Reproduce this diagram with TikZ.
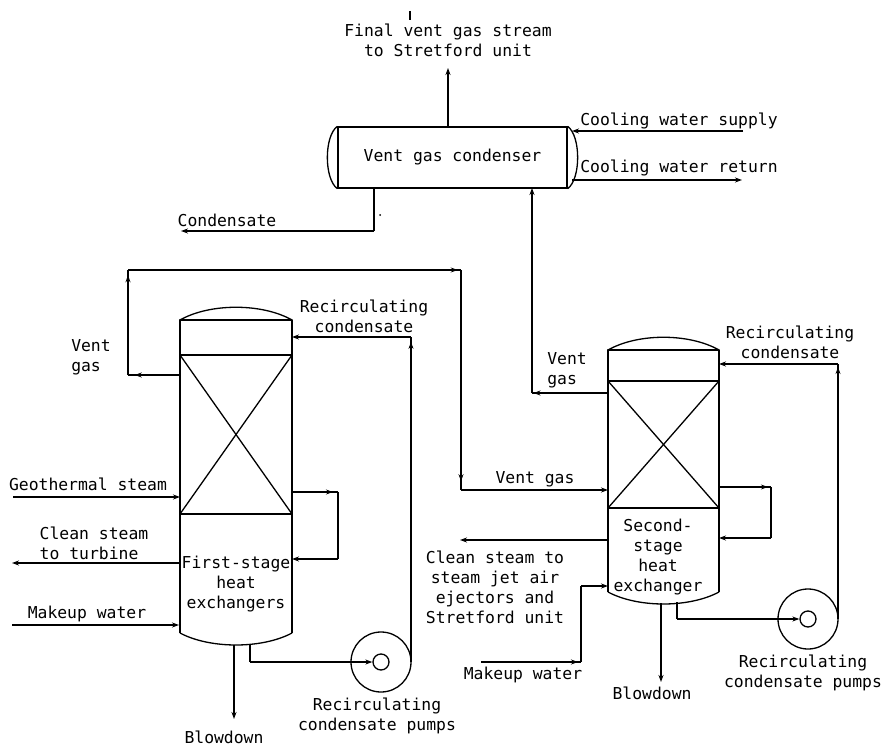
\documentclass[tikz,border=0pt]{standalone}
\usepackage{fontspec}
\setmainfont{DejaVu Sans Mono}
\usetikzlibrary{arrows.meta,decorations.markings}
\tikzset{
  pipe/.style={line width=1.3pt, line join=round},
  into/.style={pipe, -{Stealth[length=7pt,width=5pt]}},
  flow/.style={pipe, postaction={decorate}, decoration={markings,
    mark=at position #1 with {\arrow{Stealth[length=7pt,width=5pt]}}}},
  lbl/.style={font=\fontsize{16.4}{20}\selectfont, align=center, inner sep=0pt},
  lblL/.style={lbl, align=left},
}
\begin{document}
\begin{tikzpicture}[x=1pt, y=-1pt]
\useasboundingbox (0,0) rectangle (883,749);
% Vent gas condenser
\node[draw, line width=1.3pt, minimum width=229pt, minimum height=61pt, inner sep=0pt,
  font=\fontsize{16.4}{20}\selectfont] (condenser) at (452.5,157.5) {Vent gas condenser};
\draw[pipe] (condenser.north west) .. controls (324,136) and (324,179) .. (condenser.south west);
\draw[pipe] (condenser.north east) .. controls (581,136) and (581,179) .. (condenser.south east);
% Vessels: name/left/right/top/band/divider/bottom
\foreach \name/\lx/\rx/\ty/\by/\dy/\ey in {first/180/292/320/355/514/633, second/608/719/350/381/508/592}{
  \draw[pipe] (\lx,\ey) -- (\lx,\ty) -- (\rx,\ty) -- (\rx,\ey);
  \draw[pipe] (\lx,\ty) .. controls (\lx+30,\ty-17) and (\rx-30,\ty-17) .. (\rx,\ty);
  \draw[pipe] (\lx,\ey) .. controls (\lx+30,\ey+16) and (\rx-30,\ey+16) .. (\rx,\ey);
  \draw[pipe] (\lx,\by) -- (\rx,\by);
  \draw[pipe] (\lx,\dy) -- (\rx,\dy);
  \draw[pipe] (\lx,\by) -- (\rx,\dy);
  \draw[pipe] (\rx,\by) -- (\lx,\dy);
}
% Pumps
\node[draw, circle, line width=1.3pt, minimum size=60pt, inner sep=0pt] (pumpA) at (381,662) {};
\node[draw, circle, line width=1.3pt, minimum size=16pt, inner sep=0pt] (eyeA) at (381,662) {};
\node[draw, circle, line width=1.3pt, minimum size=60pt, inner sep=0pt] (pumpB) at (808,619) {};
\node[draw, circle, line width=1.3pt, minimum size=16pt, inner sep=0pt] (eyeB) at (808,619) {};
% Stream end points
\coordinate (stackT) at (448,127);
\coordinate (stackH) at (448,68);
\coordinate (tickT) at (410,11);
\coordinate (tickB) at (410,20);
\coordinate (cwsS) at (743,131);
\coordinate (cwsE) at (572,131);
\coordinate (cwrS) at (572,180);
\coordinate (cwrE) at (742,180);
\coordinate (condS) at (374,188);
\coordinate (condC) at (374,231);
\coordinate (condE) at (181,231);
\coordinate (ventAS) at (180,375);
\coordinate (ventAC) at (128,375);
\coordinate (ventAT) at (128,270);
\coordinate (ventAR) at (461,270);
\coordinate (ventAD) at (461,490);
\coordinate (ventAE) at (608,490);
\coordinate (ventBS) at (608,393);
\coordinate (ventBC) at (532,393);
\coordinate (ventBE) at (532,188);
\coordinate (geoS) at (13,497);
\coordinate (geoE) at (180,497);
\coordinate (cleanAS) at (180,563);
\coordinate (cleanAE) at (12,563);
\coordinate (makeAS) at (12,625);
\coordinate (makeAE) at (179,625);
\coordinate (blowAS) at (234,645);
\coordinate (blowAE) at (234,719);
\coordinate (loopAS) at (292,492);
\coordinate (loopAC) at (338,492);
\coordinate (loopAD) at (338,559);
\coordinate (loopAE) at (292,559);
\coordinate (sucAS) at (250,644);
\coordinate (sucAC) at (250,662);
\coordinate (recAS) at (411,662);
\coordinate (recAC) at (411,337);
\coordinate (recAE) at (292,337);
\coordinate (cleanBS) at (608,540);
\coordinate (cleanBE) at (460,540);
\coordinate (makeBS) at (481,662);
\coordinate (makeBC) at (581,662);
\coordinate (makeBD) at (581,586);
\coordinate (makeBE) at (608,586);
\coordinate (blowBS) at (661,603);
\coordinate (blowBE) at (661,682);
\coordinate (loopBS) at (719,487);
\coordinate (loopBC) at (771,487);
\coordinate (loopBD) at (771,538);
\coordinate (loopBE) at (719,538);
\coordinate (sucBS) at (677,602);
\coordinate (sucBC) at (677,619);
\coordinate (recBS) at (838,619);
\coordinate (recBC) at (838,364);
\coordinate (recBE) at (719,364);
% Condenser streams
\draw[into] (stackT) -- (stackH);
\draw[pipe] (tickT) -- (tickB);
\draw[into] (cwsS) -- (cwsE);
\draw[into] (cwrS) -- (cwrE);
\draw[pipe] (condS) -- (condC);
\draw[into] (condC) -- (condE);
\fill (380,215) circle (1pt);
% Vent gas from first stage to second stage
\draw[flow=0.87] (ventAS) -- (ventAC);
\draw[flow=0.95] (ventAC) -- (ventAT);
\draw[flow=0.99] (ventAT) -- (ventAR);
\draw[flow=0.96] (ventAR) -- (ventAD);
\draw[into] (ventAD) -- (ventAE);
\draw[flow=0.98] (ventBS) -- (ventBC);
\draw[into] (ventBC) -- (ventBE);
% First stage streams
\draw[into] (geoS) -- (geoE);
\draw[into] (cleanAS) -- (cleanAE);
\draw[into] (makeAS) -- (makeAE);
\draw[into] (blowAS) -- (blowAE);
\draw[flow=0.89] (loopAS) -- (loopAC);
\draw[pipe] (loopAC) -- (loopAD);
\draw[into] (loopAD) -- (loopAE);
\draw[pipe] (sucAS) -- (sucAC);
\draw[into] (sucAC) -- (eyeA.west);
\draw[flow=0.985] (recAS) -- (recAC);
\draw[into] (recAC) -- (recAE);
% Second stage streams
\draw[into] (cleanBS) -- (cleanBE);
\draw[flow=0.97] (makeBS) -- (makeBC);
\draw[pipe] (makeBC) -- (makeBD);
\draw[into] (makeBD) -- (makeBE);
\draw[into] (blowBS) -- (blowBE);
\draw[flow=0.94] (loopBS) -- (loopBC);
\draw[pipe] (loopBC) -- (loopBD);
\draw[into] (loopBD) -- (loopBE);
\draw[pipe] (sucBS) -- (sucBC);
\draw[into] (sucBC) -- (eyeB.west);
\draw[flow=0.988] (recBS) -- (recBC);
\draw[into] (recBC) -- (recBE);
% Labels
\node[lbl] (finalLbl) at (448,40) {Final vent gas stream\\to Stretford unit};
\node[lbl] (cwsLbl) at (679,121) {Cooling water supply};
\node[lbl] (cwrLbl) at (679,168) {Cooling water return};
\node[lbl] (condLbl) at (227,220) {Condensate};
\node[lblL] (ventALbl) at (91,357) {Vent\\gas};
\node[lbl] (recALbl) at (364,316) {Recirculating\\condensate};
\node[lbl] (geoLbl) at (88,484) {Geothermal steam};
\node[lblL] (cleanALbl) at (94,543) {Clean steam\\to turbine};
\node[lbl] (makeALbl) at (87,614) {Makeup water};
\node[lbl] (stageALbl) at (236,584) {First-stage\\heat\hspace*{18pt}\\exchangers};
\node[lbl] (blowALbl) at (224,737) {Blowdown};
\node[lbl] (pumpALbl) at (377,716) {Recirculating\\condensate pumps};
\node[lblL] (ventBLbl) at (567,370) {Vent\\gas};
\node[lbl] (ventCLbl) at (535,479) {Vent gas};
\node[lbl] (recBLbl) at (790,342) {Recirculating\\condensate};
\node[lbl] (cleanBLbl) at (495,587) {Clean steam to\\steam jet air\\ejectors and\\Stretford unit};
\node[lbl] (stageBLbl) at (658,557) {Second-\\stage\\heat\hspace*{10pt}\\exchanger};
\node[lbl] (makeBLbl) at (523,675) {Makeup water};
\node[lbl] (blowBLbl) at (652,693) {Blowdown};
\node[lbl] (pumpBLbl) at (803,673) {Recirculating\\condensate pumps};
\end{tikzpicture}
\end{document}
